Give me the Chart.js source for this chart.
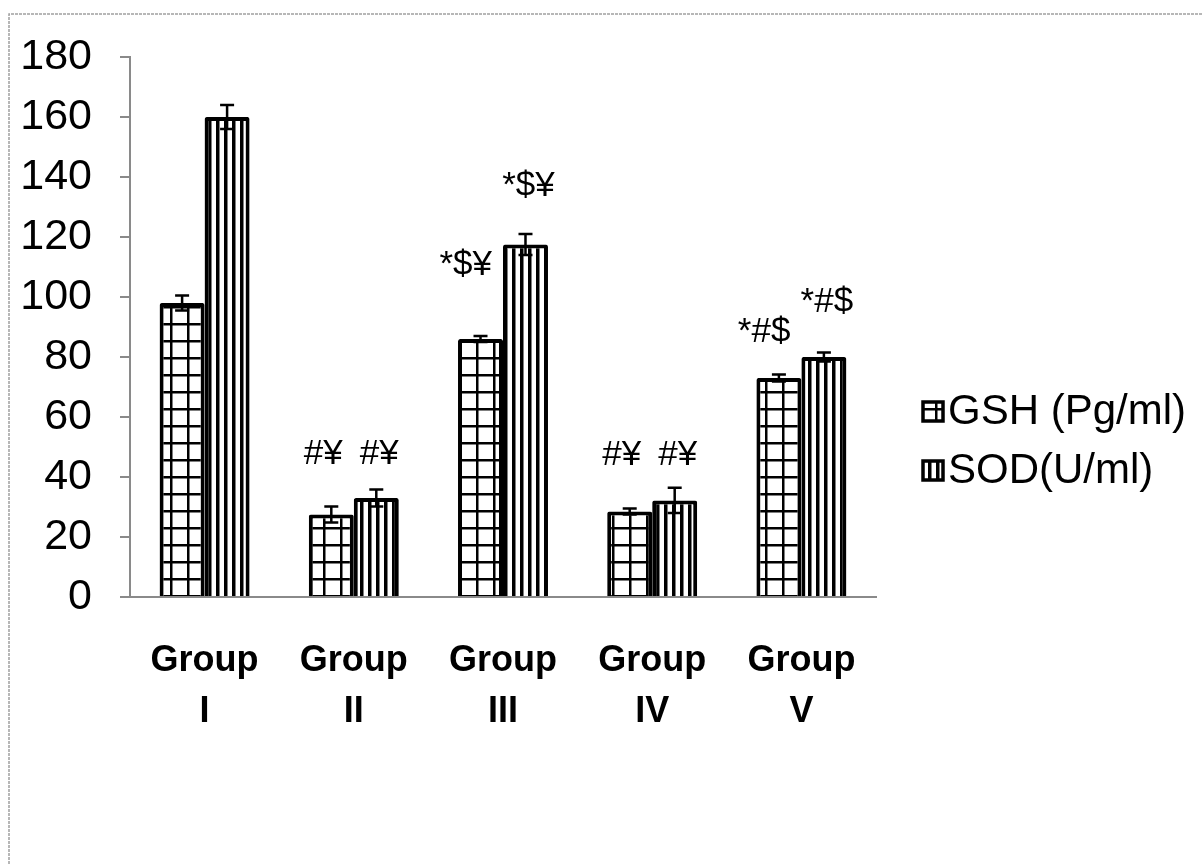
<!DOCTYPE html>
<html><head><meta charset="utf-8">
<script src="https://cdn.jsdelivr.net/npm/chart.js@4.4.0/dist/chart.umd.min.js"></script>
<style>html,body{margin:0;padding:0;background:#fff;overflow:hidden;}#wrap{width:1202px;height:864px;position:relative;}</style>
</head><body><div id="wrap"><canvas id="c" width="1202" height="864"></canvas></div>
<script>
const categories = [["Group","I"],["Group","II"],["Group","III"],["Group","IV"],["Group","V"]];
const seriesNames = ["GSH (Pg/ml)", "SOD(U/ml)"];
const gshValues = [98, 27.5, 86, 28.5, 73];
const gshErrors = [2.5, 2.7, 1, 1, 1.2];
const sodValues = [160, 33, 117.5, 32.2, 80];
const sodErrors = [4, 2.8, 3.5, 4.2, 1.5];
const gshMarks = ["", "#¥", "*$¥", "#¥", "*#$"];
const sodMarks = ["", "#¥", "*$¥", "#¥", "*#$"];
const gshMarkY = [null, 47.7, 110.7, 47.3, 88.3];
const sodMarkY = [null, 47.7, 137, 47.3, 98.3];
const yMin = 0, yMax = 180, yStep = 20;

const FONT = '"Liberation Sans", Arial, Helvetica, sans-serif';
Chart.defaults.font.family = FONT;

const canvas = document.getElementById('c');
const ctx = canvas.getContext('2d');

function gridPattern(){
  const c = document.createElement('canvas'); c.width = 17; c.height = 17;
  const g = c.getContext('2d');
  g.fillStyle = '#fff'; g.fillRect(0,0,17,17);
  g.fillStyle = '#000'; g.fillRect(0,0,2.5,17); g.fillRect(0,0,17,2.5);
  return ctx.createPattern(c, 'repeat');
}
function stripePattern(){
  const c = document.createElement('canvas'); c.width = 8; c.height = 4;
  const g = c.getContext('2d');
  g.fillStyle = '#fff'; g.fillRect(0,0,8,4);
  g.fillStyle = '#000'; g.fillRect(0,0,3.5,4);
  return ctx.createPattern(c, 'repeat');
}
const gshFill = gridPattern();
const sodFill = stripePattern();

const errors = [gshErrors, sodErrors];
const marks = [gshMarks, sodMarks];
const markY = [gshMarkY, sodMarkY];

const framePlugin = {
  id: 'frame',
  beforeDraw(chart){
    const c = chart.ctx;
    c.save();
    c.fillStyle = '#fff'; c.fillRect(0,0,chart.width,chart.height);
    c.strokeStyle = '#a0a0a0'; c.lineWidth = 1.5;
    c.setLineDash([3,1]);
    c.beginPath(); c.moveTo(9,864); c.lineTo(9,14); c.lineTo(1202,14); c.stroke();
    c.restore();
  }
};

const errorPlugin = {
  id: 'errbars',
  afterDatasetsDraw(chart){
    const c = chart.ctx, ys = chart.scales.y;
    c.save();
    c.strokeStyle = '#000'; c.lineWidth = 2.5;
    chart.data.datasets.forEach((ds, d) => {
      const meta = chart.getDatasetMeta(d);
      meta.data.forEach((bar, i) => {
        const v = ds.data[i], e = errors[d][i];
        const y1 = ys.getPixelForValue(v + e), y2 = ys.getPixelForValue(v - e);
        c.beginPath();
        c.moveTo(bar.x, y1); c.lineTo(bar.x, y2);
        c.moveTo(bar.x - 7, y1); c.lineTo(bar.x + 7, y1);
        c.moveTo(bar.x - 7, y2); c.lineTo(bar.x + 7, y2);
        c.stroke();
      });
    });
    c.fillStyle = '#000';
    c.font = '35px ' + FONT;
    c.textBaseline = 'middle';
    chart.data.datasets.forEach((ds, d) => {
      const meta = chart.getDatasetMeta(d);
      meta.data.forEach((bar, i) => {
        if (!marks[d][i]) return;
        const y = ys.getPixelForValue(markY[d][i]);
        if (d === 0) {
          c.textAlign = 'right';
          c.fillText(marks[d][i], bar.x + bar.width / 2 - 11, y);
        } else {
          c.textAlign = 'center';
          c.fillText(marks[d][i], bar.x + 3, y);
        }
      });
    });
    c.restore();
  }
};

const legendPlugin = {
  id: 'customLegend',
  afterDraw(chart){
    const c = chart.ctx;
    c.save();
    const rows = [{y: 411}, {y: 470}];
    chart.data.datasets.forEach((ds, d) => {
      const cy = rows[d].y;
      const bx = 923, by = cy - 9, bw = 20, bh = 19;
      c.fillStyle = ds.backgroundColor;
      c.fillRect(bx, by, bw, bh);
      c.strokeStyle = '#000'; c.lineWidth = 3.5;
      c.strokeRect(bx, by, bw, bh);
      c.fillStyle = '#000';
      c.font = '42px ' + FONT;
      c.textAlign = 'left'; c.textBaseline = 'middle';
      c.fillText(ds.label, 948, cy + 1);
    });
    c.restore();
  }
};

new Chart(canvas, {
  type: 'bar',
  data: {
    labels: categories,
    datasets: [
      { label: seriesNames[0], data: gshValues, backgroundColor: gshFill, borderColor: '#000', borderWidth: 4, borderRadius: 2, borderSkipped: 'start', categoryPercentage: 0.603, barPercentage: 1 },
      { label: seriesNames[1], data: sodValues, backgroundColor: sodFill, borderColor: '#000', borderWidth: 4, borderRadius: 2, borderSkipped: 'start', categoryPercentage: 0.603, barPercentage: 1 }
    ]
  },
  options: {
    responsive: false,
    animation: false,
    events: [],
    layout: { padding: { top: 57, right: 326, bottom: 0, left: 0 } },
    plugins: { legend: { display: false }, tooltip: { enabled: false } },
    scales: {
      x: {
        grid: { display: false, drawTicks: false },
        border: { color: '#8a8a8a', width: 2 },
        ticks: { color: '#000', font: { size: 36, weight: 'bold', lineHeight: 1.4 }, padding: 39, maxRotation: 0, autoSkip: false },
        afterFit(s){ s.height = 267; }
      },
      y: {
        min: yMin, max: yMax,
        ticks: { stepSize: yStep, color: '#000', font: { size: 43 }, padding: 28 },
        grid: { drawOnChartArea: false, tickLength: 10, color: '#8a8a8a', lineWidth: 2 },
        border: { color: '#8a8a8a', width: 2 },
        afterFit(s){ s.width = 130; }
      }
    }
  },
  plugins: [framePlugin, errorPlugin, legendPlugin]
});
</script>
</body></html>
